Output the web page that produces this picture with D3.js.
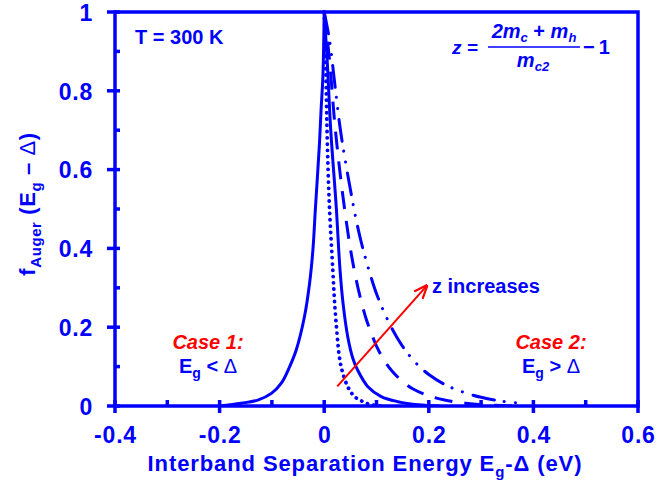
<!DOCTYPE html>
<html><head><meta charset="utf-8">
<script src="https://cdn.jsdelivr.net/npm/d3@7"></script>
<style>
html,body{margin:0;padding:0;background:#fff;}
text{font-family:"Liberation Sans",Arial,sans-serif;}
</style></head>
<body><svg id="c" width="657" height="483"></svg>
<script>
// ---- data ----
const xTicks = [-0.4,-0.2,0,0.2,0.4,0.6];
const xMinor = [-0.3,-0.1,0.1,0.3,0.5];
const yTicks = [0,0.2,0.4,0.6,0.8,1];
const yMinor = [0.1,0.3,0.5,0.7,0.9];
const xTickLabels = ["-0.4","-0.2","0","0.2","0.4","0.6"];
const yTickLabels = ["0","0.2","0.4","0.6","0.8","1"];

// solid curve, left (Case 1) and right branches
const solidLX = [-0.2,-0.159,-0.127,-0.101,-0.082,-0.066,-0.0535,-0.0377,-0.028,-0.0216,-0.0166,-0.009,-0.006,-0.0025,0];
const solidLY = [0,0.007,0.015,0.032,0.058,0.1,0.142,0.227,0.311,0.396,0.506,0.667,0.751,0.836,1];
const solidRX = [0,0.006,0.0125,0.023,0.030,0.036,0.045,0.055,0.064,0.0835,0.109,0.141,0.18,0.22];
const solidRY = [1,0.87,0.70,0.506,0.35,0.261,0.176,0.12,0.091,0.049,0.024,0.011,0.003,0];

// dotted (smallest z)
const dotX = [0,0.002,0.004,0.006,0.010,0.0166,0.020,0.025,0.029,0.034,0.045,0.058,0.074,0.09,0.11];
const dotY = [1,0.92,0.80,0.667,0.506,0.342,0.261,0.176,0.125,0.091,0.049,0.024,0.011,0.003,0];

// dashed
const dashX = [0,0.01,0.02,0.03,0.04,0.05,0.06,0.07,0.08,0.09,0.10,0.115,0.13,0.15,0.17,0.20,0.23,0.27,0.32,0.36];
const dashY = [1,0.88,0.72,0.595,0.49,0.40,0.328,0.27,0.222,0.185,0.152,0.115,0.088,0.062,0.043,0.026,0.015,0.007,0.002,0];

// dash-dot-dot (largest z)
const ddX = [0,0.01,0.02,0.03,0.04,0.05,0.06,0.07,0.08,0.09,0.10,0.12,0.14,0.16,0.18,0.20,0.23,0.26,0.30,0.34,0.385];
const ddY = [1,0.93,0.82,0.71,0.625,0.55,0.48,0.42,0.37,0.325,0.285,0.222,0.172,0.133,0.103,0.08,0.055,0.038,0.022,0.012,0.006];

const arrowFrom = [0.025, 0.05];
const arrowTo = [0.196, 0.305];

// ---- layout ----
const L=115, R=638, T=12, B=406;
const blue="#0000ff", red="#ff0000";
const svg=d3.select("#c");
const x=d3.scaleLinear().domain([-0.4,0.6]).range([L,R]);
const y=d3.scaleLinear().domain([0,1]).range([B,T]);

const defs=svg.append("defs");
defs.append("clipPath").attr("id","clip").append("rect")
  .attr("x",L).attr("y",T-2).attr("width",R-L).attr("height",B-T+2);

const line=d3.line().x(d=>x(d[0])).y(d=>y(d[1])).curve(d3.curveCatmullRom.alpha(0.5));
const zip=(a,b)=>a.map((v,i)=>[v,b[i]]);
const g=svg.append("g").attr("clip-path","url(#clip)");
const series=[
  {d:zip(solidLX,solidLY),dash:null},
  {d:zip(solidRX,solidRY),dash:null},
  {d:zip(dotX,dotY),dash:"0.1,6.2",cap:"round",w:3.8},
  {d:zip(dashX,dashY),dash:"18,12"},
  {d:zip(ddX,ddY),dash:"22,10,0.1,11,0.1,11",cap:"round"}
];
series.forEach(s=>{
  g.append("path").attr("d",line(s.d)).attr("fill","none").attr("stroke",blue)
   .attr("stroke-width",s.w||3).attr("stroke-dasharray",s.dash)
   .attr("stroke-linecap",s.cap||"butt").attr("stroke-linejoin","round");
});

// frame
svg.append("rect").attr("x",L).attr("y",T).attr("width",R-L).attr("height",B-T)
  .attr("fill","none").attr("stroke",blue).attr("stroke-width",3.5);

// x axis
const xa=d3.axisBottom(x).tickValues(xTicks).tickSize(0).tickFormat((d,i)=>xTickLabels[i]);
const gx=svg.append("g").attr("transform",`translate(0,${B})`).call(xa);
gx.select(".domain").remove();
gx.selectAll("text").attr("fill",blue).attr("font-size",23).attr("font-weight","bold")
  .attr("letter-spacing",0.8).attr("y",37).attr("dy",0);
xTicks.forEach(v=>svg.append("line").attr("x1",x(v)).attr("x2",x(v)).attr("y1",B-6).attr("y2",B+7).attr("stroke",blue).attr("stroke-width",3.5));
xMinor.forEach(v=>svg.append("line").attr("x1",x(v)).attr("x2",x(v)).attr("y1",B-6).attr("y2",B).attr("stroke",blue).attr("stroke-width",3.5));

// y axis
const ya=d3.axisLeft(y).tickValues(yTicks).tickSize(0).tickFormat((d,i)=>yTickLabels[i]);
const gy=svg.append("g").attr("transform",`translate(${L},0)`).call(ya);
gy.select(".domain").remove();
gy.selectAll("text").attr("fill",blue).attr("font-size",23).attr("font-weight","bold")
  .attr("letter-spacing",0.8).attr("x",-22).attr("dy","0.36em");
yTicks.forEach(v=>svg.append("line").attr("x1",L-8).attr("x2",L+5).attr("y1",y(v)).attr("y2",y(v)).attr("stroke",blue).attr("stroke-width",3.5));
yMinor.forEach(v=>svg.append("line").attr("x1",L).attr("x2",L+5).attr("y1",y(v)).attr("y2",y(v)).attr("stroke",blue).attr("stroke-width",3.5));

// axis titles
const xt=svg.append("text").attr("x",365).attr("y",471).attr("text-anchor","middle")
  .attr("fill",blue).attr("font-size",22).attr("font-weight","bold").attr("letter-spacing",0.9);
xt.append("tspan").text("Interband Separation Energy E");
xt.append("tspan").attr("font-size",15).attr("dy",6).text("g");
xt.append("tspan").attr("dy",-6).text("-Δ (eV)");

const yt=svg.append("text").attr("transform","translate(35,204) rotate(-90)").attr("text-anchor","middle")
  .attr("fill",blue).attr("font-size",22).attr("font-weight","bold").attr("letter-spacing",0.6);
yt.append("tspan").text("f");
yt.append("tspan").attr("font-size",15).attr("dy",6).text("Auger");
yt.append("tspan").attr("dy",-6).text(" (E");
yt.append("tspan").attr("font-size",15).attr("dy",6).text("g");
yt.append("tspan").attr("dy",-6).text(" – ");
yt.append("tspan").attr("font-weight","normal").text("Δ");
yt.append("tspan").text(")");

// annotations
svg.append("text").attr("x",135).attr("y",44).attr("fill",blue).attr("font-size",20).attr("font-weight","bold").text("T = 300 K");

function caseLabel(cx,num,sym){
  svg.append("text").attr("x",cx).attr("y",349).attr("text-anchor","middle").attr("fill",red)
    .attr("font-size",20).attr("font-weight","bold").attr("font-style","italic").text(`Case ${num}:`);
  const t=svg.append("text").attr("x",cx).attr("y",373).attr("text-anchor","middle").attr("fill",blue)
    .attr("font-size",20).attr("font-weight","bold");
  t.append("tspan").text("E");
  t.append("tspan").attr("font-size",14).attr("dy",5).text("g");
  t.append("tspan").attr("dy",-5).text(` ${sym} `);
  t.append("tspan").attr("font-weight","normal").text("Δ");
}
caseLabel(208,1,"<");
caseLabel(551,2,">");

// arrow
defs.append("marker").attr("id","ah").attr("viewBox","0 0 10 10").attr("refX",9).attr("refY",5)
  .attr("markerWidth",7).attr("markerHeight",7).attr("orient","auto")
  .append("path").attr("d","M0,1 L10,5 L0,9").attr("fill","none").attr("stroke",red).attr("stroke-width",1.6);
svg.append("line").attr("x1",x(arrowFrom[0])).attr("y1",y(arrowFrom[1])).attr("x2",x(arrowTo[0])).attr("y2",y(arrowTo[1]))
  .attr("stroke",red).attr("stroke-width",2).attr("marker-end","url(#ah)");
svg.append("text").attr("x",432).attr("y",293).attr("fill",blue).attr("font-size",20).attr("font-weight","bold").text("z increases");

// formula
const mf='"DejaVu Serif","Liberation Serif",serif';
const fz=svg.append("g").attr("fill",blue).attr("font-family",mf).attr("font-weight","bold").attr("font-style","italic");
fz.append("text").attr("x",452).attr("y",54).attr("font-size",19).text("z =");
const num=fz.append("text").attr("x",534).attr("y",38).attr("text-anchor","middle").attr("font-size",20);
num.append("tspan").text("2m");
num.append("tspan").attr("font-size",13).attr("dy",4).text("c");
num.append("tspan").attr("dy",-4).attr("font-style","normal").text(" + ");
num.append("tspan").text("m");
num.append("tspan").attr("font-size",13).attr("dy",4).text("h");
svg.append("line").attr("x1",488).attr("x2",580).attr("y1",47).attr("y2",47).attr("stroke",blue).attr("stroke-width",1.6);
const den=fz.append("text").attr("x",533).attr("y",67).attr("text-anchor","middle").attr("font-size",20);
den.append("tspan").text("m");
den.append("tspan").attr("font-size",13).attr("dy",4).text("c2");
const m1=fz.append("text").attr("x",583).attr("y",54).attr("font-size",20).attr("font-style","normal");
m1.append("tspan").text("−");
m1.append("tspan").attr("dx",4).text("1");
</script></body></html>
